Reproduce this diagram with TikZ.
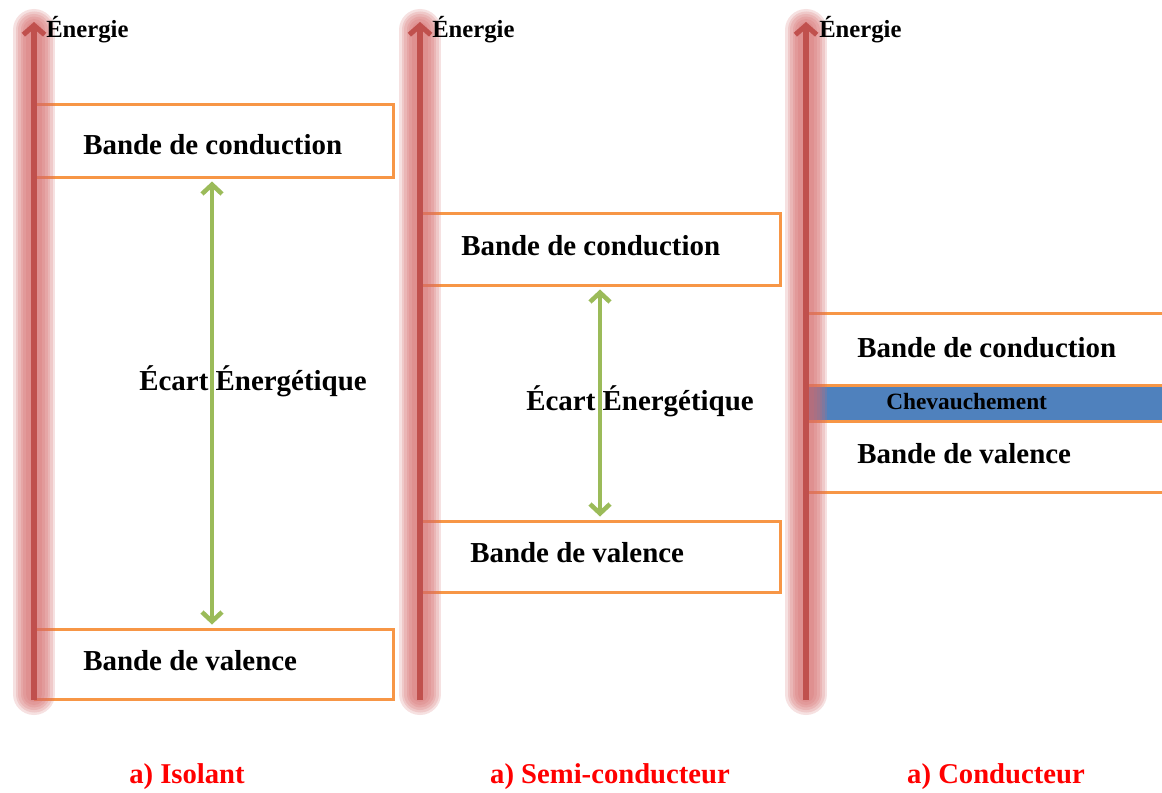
\documentclass[tikz,border=0pt]{standalone}
\usepackage{fontspec}
\setmainfont{Liberation Serif}
\usetikzlibrary{arrows.meta,calc}
\definecolor{axisred}{HTML}{C0504D}
\definecolor{glowred}{HTML}{D66A6A}
\definecolor{bandorange}{HTML}{F79646}
\definecolor{gapgreen}{HTML}{9BBB59}
\definecolor{overlapblue}{HTML}{4F81BD}
\begin{document}
\begin{tikzpicture}[x=0.75pt,y=-0.75pt,
  band/.style={draw=bandorange,line width=2.25pt,rectangle,inner sep=0pt},
  bandtxt/.style={font=\bfseries\fontsize{21.7}{26}\selectfont,anchor=west,inner sep=0pt},
  gaptxt/.style={font=\bfseries\fontsize{21.7}{26}\selectfont,inner sep=0pt},
  captxt/.style={font=\bfseries\fontsize{21.5}{26}\selectfont,text=red,inner sep=0pt},
  entxt/.style={font=\bfseries\fontsize{18.5}{22}\selectfont,anchor=west,inner sep=0pt},
  gaparrow/.style={draw=gapgreen,line width=3.4pt,{Straight Barb[length=7pt,width=15pt]}-{Straight Barb[length=7pt,width=15pt]}},
  axisarrow/.style={draw=axisred,line width=3.8pt,-{Straight Barb[length=7pt,width=16pt]}},
  glow/.style={draw=glowred,line cap=round,opacity=0.2}
]
\useasboundingbox (0,0) rectangle (1162,792);
\fill[white] (0,0) rectangle (1162,792);

% ---------- Isolant ----------
\node[band,minimum width=268.5pt,minimum height=54.75pt] (ic) at (214,140.5) {};
\node[band,minimum width=268.5pt,minimum height=52.5pt] (iv) at (214,664) {};
\node[bandtxt] (ict) at (83,145) {Bande de conduction};
\node[bandtxt] (ivt) at (83,661) {Bande de valence};
\draw[gaparrow] ($(ic.south)+(-2,3)$) -- ($(iv.north)+(-2,-3)$);
\node[gaptxt] (igap) at (253,381) {Écart Énergétique};
\node[captxt] (icap) at (187,777) {a) Isolant};

% ---------- Semi-conducteur ----------
\node[band,minimum width=270pt,minimum height=54pt] (sc) at (600,249) {};
\node[band,minimum width=270pt,minimum height=53.25pt] (sv) at (600,556.5) {};
\node[bandtxt] (sct) at (461,246) {Bande de conduction};
\node[bandtxt] (svt) at (470,553) {Bande de valence};
\draw[gaparrow] ($(sc.south)+(0,3)$) -- ($(sv.north)+(0,-3)$);
\node[gaptxt] (sgap) at (640,401) {Écart Énergétique};
\node[captxt] (scap) at (610,777) {a) Semi-conducteur};

% ---------- Conducteur ----------
\coordinate (c1a) at (808,313); \coordinate (c1b) at (1162,313);
\coordinate (c2a) at (808,385); \coordinate (c2b) at (1162,385);
\coordinate (c3a) at (808,421); \coordinate (c3b) at (1162,421);
\coordinate (c4a) at (808,492); \coordinate (c4b) at (1162,492);
\fill[overlapblue] (808,386) rectangle (1162,420);
\draw[bandorange,line width=2.25pt] (c1a) -- (c1b);
\draw[bandorange,line width=2.25pt] (c2a) -- (c2b);
\draw[bandorange,line width=2.25pt] (c3a) -- (c3b);
\draw[bandorange,line width=2.25pt] (c4a) -- (c4b);
\node[bandtxt] (cct) at (857,348) {Bande de conduction};
\node[bandtxt] (cvt) at (857,454) {Bande de valence};
\node[font=\bfseries\fontsize{17.5}{21}\selectfont,anchor=west,inner sep=0pt] (cov) at (886,402) {Chevauchement};
\node[captxt] (ccap) at (996,777) {a) Conducteur};

% ---------- Axes with glow ----------
\foreach \ax in {34,420,806}{
  \foreach \w in {42,37,32,27,22,16}{
    \draw[glow,line width=\w*0.75pt] (\ax,30) -- (\ax,694);
  }
}
\coordinate (a1b) at (34,700); \coordinate (a1t) at (34,22);
\coordinate (a2b) at (420,700); \coordinate (a2t) at (420,22);
\coordinate (a3b) at (806,700); \coordinate (a3t) at (806,22);
\draw[axisarrow] (a1b) -- (a1t);
\draw[axisarrow] (a2b) -- (a2t);
\draw[axisarrow] (a3b) -- (a3t);
\node[entxt] (e1) at (46,30) {Énergie};
\node[entxt] (e2) at (432,30) {Énergie};
\node[entxt] (e3) at (819,30) {Énergie};
\end{tikzpicture}
\end{document}
